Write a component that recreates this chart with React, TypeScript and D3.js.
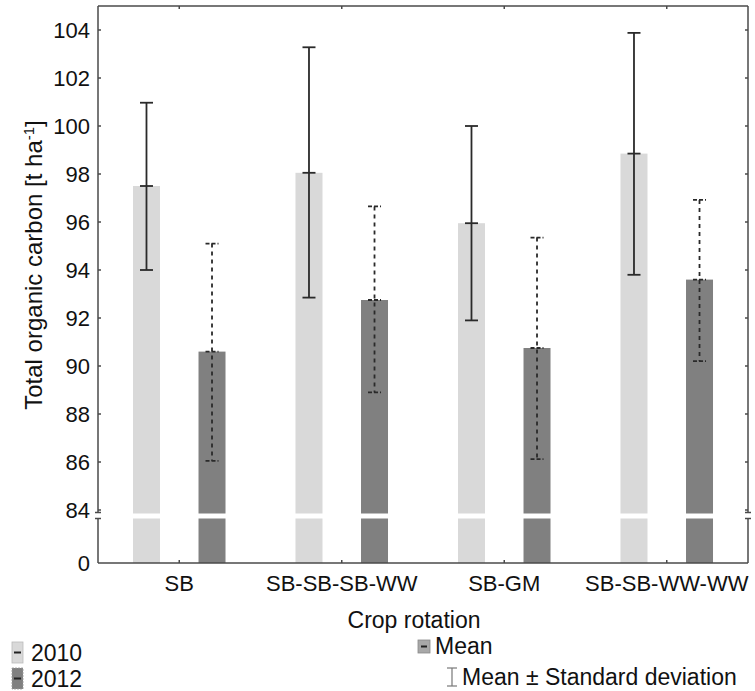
import React from "react";
import * as d3 from "d3";

const categories = ["SB", "SB-SB-SB-WW", "SB-GM", "SB-SB-WW-WW"];
const series = ["2010", "2012"];
const mean2010 = [97.5, 98.05, 95.95, 98.85];
const upper2010 = [100.97, 103.28, 100.0, 103.88];
const lower2010 = [94.0, 92.85, 91.9, 93.8];
const mean2012 = [90.6, 92.75, 90.75, 93.6];
const upper2012 = [95.1, 96.65, 95.35, 96.92];
const lower2012 = [86.05, 88.9, 86.12, 90.2];
const yTicks = [84, 86, 88, 90, 92, 94, 96, 98, 100, 102, 104];

const W = 755;
const H = 691;
const left = 98;
const right = 748;
const top = 6;
const bottom = 563;
const breakTop = 513.5;
const breakBottom = 518.5;
const FONT = "'Liberation Sans', Arial, sans-serif";
const colors = ["#d9d9d9", "#808080"];
const frame = "#4a4a4a";

export default function App() {
  const x = d3.scaleBand<string>().domain(categories).range([left, right]).padding(0);
  const xi = d3
    .scaleBand<string>()
    .domain(series)
    .range([0, x.bandwidth()])
    .paddingInner(0.588)
    .paddingOuter(0.534);
  const y = d3.scaleLinear().domain([84, 105]).range([510, top]);
  const yLow = d3.scaleLinear().domain([0, 84]).range([bottom, breakBottom]);

  const data = [
    { s: "2010", mean: mean2010, up: upper2010, lo: lower2010 },
    { s: "2012", mean: mean2012, up: upper2012, lo: lower2012 },
  ];
  const bw = xi.bandwidth();
  const capW = 13;

  return (
    <svg width={W} height={H} style={{ display: "block", position: "absolute", left: 0, top: 0 }} fontFamily={FONT}>
      <rect x={0} y={0} width={W} height={H} fill="#fff" />
      {data.map((d, si) =>
        categories.map((c, i) => {
          const bx = (x(c) ?? 0) + (xi(d.s) ?? 0);
          return (
            <g key={d.s + c}>
              <rect x={bx} y={y(d.mean[i])} width={bw} height={breakTop - y(d.mean[i])} fill={colors[si]} />
              <rect x={bx} y={yLow(84)} width={bw} height={yLow(0) - yLow(84)} fill={colors[si]} />
            </g>
          );
        })
      )}
      {data.map((d, si) =>
        categories.map((c, i) => {
          const cx = (x(c) ?? 0) + (xi(d.s) ?? 0) + bw / 2;
          const dash = si === 1 ? "4,4" : undefined;
          const capDash = si === 1 ? "4,2" : undefined;
          const st = { stroke: "#2a2a2a", strokeWidth: 1.8, fill: "none" };
          return (
            <g key={"e" + d.s + c}>
              <line x1={cx} x2={cx} y1={y(d.up[i])} y2={y(d.lo[i])} {...st} strokeDasharray={dash} />
              <line x1={cx - capW / 2} x2={cx + capW / 2} y1={y(d.up[i])} y2={y(d.up[i])} {...st} strokeDasharray={capDash} />
              <line x1={cx - capW / 2} x2={cx + capW / 2} y1={y(d.lo[i])} y2={y(d.lo[i])} {...st} strokeDasharray={capDash} />
              <line x1={cx - capW / 2} x2={cx + capW / 2} y1={y(d.mean[i])} y2={y(d.mean[i])} {...st} strokeDasharray={capDash} />
            </g>
          );
        })
      )}
      <g stroke={frame} strokeWidth={1.5} fill="none">
        <line x1={left} x2={right} y1={top} y2={top} />
        <line x1={left} x2={right} y1={bottom} y2={bottom} />
        <line x1={left} x2={left} y1={top} y2={breakTop - 1} />
        <line x1={left} x2={left} y1={breakBottom} y2={bottom} />
        <line x1={right} x2={right} y1={top} y2={breakTop - 1} />
        <line x1={right} x2={right} y1={breakBottom} y2={bottom} />
        {[left, right].map((lx) => (
          <g key={"b" + lx}>
            <line x1={lx - 3} x2={lx + 3} y1={breakTop - 1} y2={breakTop - 1} />
            <line x1={lx - 3} x2={lx + 3} y1={breakBottom} y2={breakBottom} />
          </g>
        ))}
        {yTicks.map((t) => (
          <g key={"t" + t}>
            <line x1={left} x2={left + 3} y1={y(t)} y2={y(t)} />
            <line x1={right - 3} x2={right} y1={y(t)} y2={y(t)} />
          </g>
        ))}
        {categories.map((c) => {
          const cx = (x(c) ?? 0) + x.bandwidth() / 2;
          return (
            <g key={"xt" + c}>
              <line x1={cx} x2={cx} y1={top} y2={top + 3} />
              <line x1={cx} x2={cx} y1={bottom} y2={bottom - 3} />
            </g>
          );
        })}
      </g>
      <g fontSize={22} fill="#111" textAnchor="end">
        {yTicks.map((t) => (
          <text key={"yl" + t} x={90} y={y(t)} dy="0.35em">
            {t}
          </text>
        ))}
        <text x={90} y={yLow(0)} dy="0.35em">
          0
        </text>
      </g>
      <g fontSize={22} fill="#111" textAnchor="middle">
        {categories.map((c) => (
          <text key={"xl" + c} x={(x(c) ?? 0) + x.bandwidth() / 2} y={591}>
            {c}
          </text>
        ))}
        <text x={414} y={628} fontSize={23}>Crop rotation</text>
      </g>
      <text transform={`translate(42, 265) rotate(-90)`} textAnchor="middle" fontSize={24} fill="#111">
        Total organic carbon [t ha
        <tspan dy="-8" fontSize={15}>-1</tspan>
        <tspan dy="8">]</tspan>
      </text>
      <g>
        <rect x={12} y={642} width={11} height={21} fill={colors[0]} stroke="#bbb" strokeWidth={0.8} />
        <line x1={14} x2={21} y1={652.5} y2={652.5} stroke="#222" strokeWidth={2} />
        <rect x={12} y={668} width={11} height={21} fill={colors[1]} stroke="#999" strokeWidth={0.8} strokeDasharray="2,1" />
        <line x1={14} x2={21} y1={678.5} y2={678.5} stroke="#222" strokeWidth={2} />
        <text x={31} y={661} fontSize={23} fill="#111">2010</text>
        <text x={31} y={687} fontSize={23} fill="#111">2012</text>

        <rect x={418} y={640} width={12} height={13} fill="#a8a8a8" stroke="#888" strokeWidth={0.8} />
        <line x1={421} x2={427} y1={646.5} y2={646.5} stroke="#222" strokeWidth={2} />
        <text x={435} y={654} fontSize={23} fill="#111">Mean</text>
        <g stroke="#777" strokeWidth={1.2}>
          <line x1={452} x2={452} y1={668} y2={686} />
          <line x1={447} x2={457} y1={668} y2={668} />
          <line x1={447} x2={457} y1={686} y2={686} />
        </g>
        <text x={462} y={685} fontSize={23} fill="#111">Mean ± Standard deviation</text>
      </g>
    </svg>
  );
}
